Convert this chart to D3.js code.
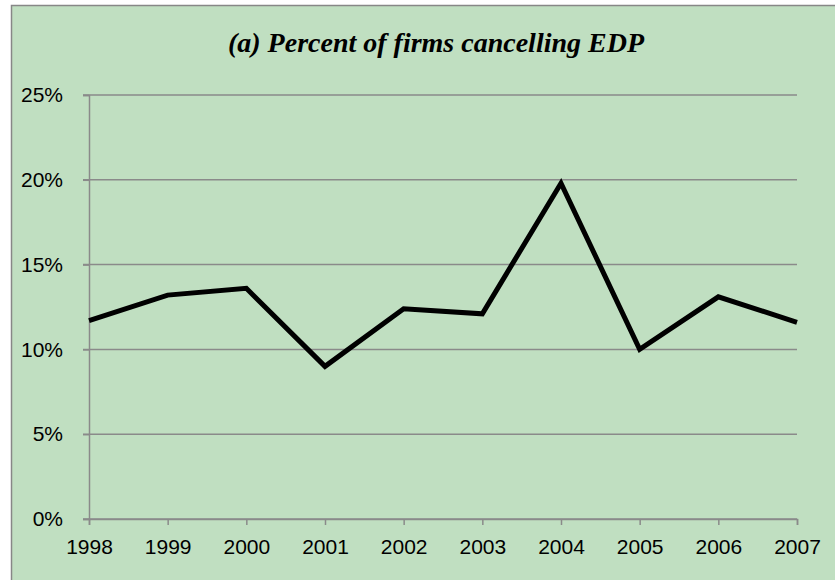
<!DOCTYPE html>
<html lang="en">
	<head>
		<meta charset="utf-8">
		<title>Percent of firms cancelling EDP</title>
		<script src="https://cdn.jsdelivr.net/npm/d3@7"></script>
		<style type="text/css">
			html, body {
				margin: 0;
				padding: 0;
				background-color: white;
			}
		</style>
	</head>
	<body>
		<script type="text/javascript">

			//Data
			var years = ["1998", "1999", "2000", "2001", "2002", "2003", "2004", "2005", "2006", "2007"];
			var pctCancelling = [0.117, 0.132, 0.136, 0.090, 0.124, 0.121, 0.198, 0.100, 0.131, 0.116];
			var yTicks = [0, 0.05, 0.10, 0.15, 0.20, 0.25];
			var titleText = "(a) Percent of firms cancelling EDP";

			//Width and height
			var w = 835;
			var h = 580;

			var svg = d3.select("body")
						.append("svg")
						.attr("width", w)
						.attr("height", h);

			//Chart area background + border (runs off the right/bottom edge)
			svg.append("rect")
				.attr("x", 11.5)
				.attr("y", 5.5)
				.attr("width", w + 20)
				.attr("height", h + 20)
				.attr("fill", "#c0dfc1")
				.attr("stroke", "#878787")
				.attr("stroke-width", 1.5);

			//Scales
			var x = d3.scalePoint()
						.domain(years)
						.range([89, 797]);

			var y = d3.scaleLinear()
						.domain([0, 0.25])
						.range([519, 95]);

			//Gridlines
			svg.append("g")
				.selectAll("line")
				.data(yTicks)
				.enter()
				.append("line")
				.attr("x1", 83)
				.attr("x2", 797)
				.attr("y1", function(d) { return y(d); })
				.attr("y2", function(d) { return y(d); })
				.attr("stroke", "#8a8a8a")
				.attr("stroke-width", 1.5);

			//Y axis
			var yAxis = d3.axisLeft(y)
						.tickValues(yTicks)
						.tickFormat(d3.format(".0%"))
						.tickSize(6)
						.tickPadding(20);

			var gy = svg.append("g")
				.attr("transform", "translate(89,0)")
				.call(yAxis);

			//X axis
			var xAxis = d3.axisBottom(x)
						.tickSize(6)
						.tickPadding(14);

			var gx = svg.append("g")
				.attr("transform", "translate(0," + y(0) + ")")
				.call(xAxis);

			[gx, gy].forEach(function(g) {
				g.select(".domain")
					.attr("stroke", "#8a8a8a")
					.attr("stroke-width", 1.5);
				g.selectAll(".tick line")
					.attr("stroke", "#8a8a8a")
					.attr("stroke-width", 1.5);
				g.selectAll(".tick text")
					.attr("fill", "black")
					.style("font-family", "'Liberation Sans', Arial, sans-serif")
					.style("font-size", "21px");
			});

			//Data line
			var line = d3.line()
						.x(function(d, i) { return x(years[i]); })
						.y(function(d) { return y(d); });

			svg.append("path")
				.datum(pctCancelling)
				.attr("d", line)
				.attr("fill", "none")
				.attr("stroke", "black")
				.attr("stroke-width", 5)
				.attr("stroke-linejoin", "miter");

			//Title
			svg.append("text")
				.attr("x", 436)
				.attr("y", 52)
				.text(titleText)
				.attr("text-anchor", "middle")
				.style("font-family", "'Liberation Serif', 'DejaVu Serif', serif")
				.style("font-style", "italic")
				.style("font-weight", "bold")
				.style("font-size", "28px")
				.attr("fill", "black");

		</script>
	</body>
</html>
